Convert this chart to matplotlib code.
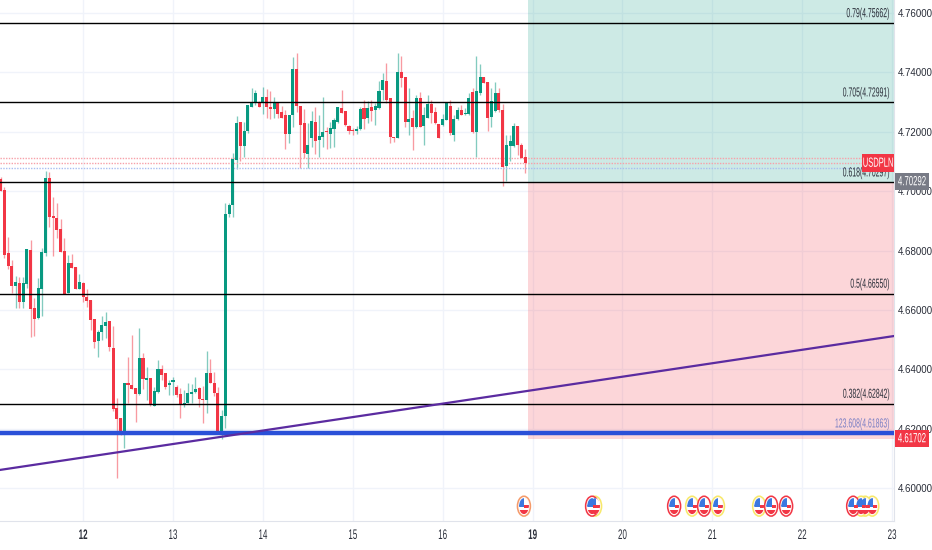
import matplotlib
matplotlib.use("Agg")
import matplotlib.pyplot as plt
from matplotlib.patches import Ellipse, Rectangle
from matplotlib.patheffects import AbstractPathEffect
from matplotlib.transforms import Affine2D
import numpy as np

plt.rcParams['font.family'] = ['Liberation Sans', 'DejaVu Sans']

opens = [4.7041,4.7004,4.6791,4.6749,4.6682,4.6690,4.6625,4.6686,4.6802,4.6606,
4.6572,4.6672,4.6790,4.7045,4.6917,4.6910,4.6873,4.6799,4.6657,4.6757,
4.6744,4.6672,4.6692,4.6643,4.6634,4.6571,4.6495,4.6526,4.6546,4.6561,
4.6473,4.6269,4.6235,4.6190,4.6353,4.6348,4.6338,4.6316,4.6439,4.6363,
4.6370,4.6278,4.6323,4.6401,4.6387,4.6346,4.6358,4.6342,4.6317,4.6280,
4.6286,4.6317,4.6323,4.6336,4.6301,4.6297,4.6387,4.6355,4.6319,4.6190,
4.6241,4.6923,4.6953,4.7105,4.7232,4.7152,4.7202,4.7284,4.7296,4.7298,
4.7296,4.7318,4.7284,4.7277,4.7299,4.7265,4.7256,4.7191,4.7256,4.7411,
4.7288,4.7228,4.7125,4.7180,4.7233,4.7172,4.7183,4.7202,4.7193,4.7208,
4.7234,4.7279,4.7270,4.7220,4.7206,4.7202,4.7208,4.7279,4.7245,4.7282,
4.7273,4.7281,4.7341,4.7371,4.7315,4.7183,4.7180,4.7400,4.7383,4.7232,
4.7245,4.7215,4.7315,4.7219,4.7248,4.7293,4.7265,4.7225,4.7223,4.7239,
4.7287,4.7190,4.7242,4.7273,4.7259,4.7260,4.7335,4.7198,4.7329,4.7383,
4.7366,4.7251,4.7270,4.7329,4.7273,4.7085,4.7152,4.7152,4.7219,4.7155,4.7114]

closes = [4.7002,4.6785,4.6749,4.6682,4.6694,4.6625,4.6690,4.6805,4.6603,4.6570,
4.6674,4.6795,4.7045,4.6914,4.6908,4.6869,4.6796,4.6654,4.6757,4.6741,
4.6672,4.6695,4.6645,4.6630,4.6567,4.6492,4.6526,4.6549,4.6560,4.6474,
4.6265,4.6232,4.6192,4.6353,4.6346,4.6335,4.6317,4.6439,4.6366,4.6370,
4.6280,4.6327,4.6401,4.6381,4.6342,4.6355,4.6364,4.6314,4.6280,4.6286,
4.6319,4.6325,4.6334,4.6300,4.6298,4.6387,4.6355,4.6319,4.6190,4.6241,
4.6923,4.6953,4.7107,4.7228,4.7152,4.7204,4.7290,4.7296,4.7329,4.7284,
4.7318,4.7284,4.7275,4.7296,4.7261,4.7248,4.7191,4.7256,4.7411,4.7288,
4.7223,4.7127,4.7155,4.7236,4.7170,4.7186,4.7199,4.7198,4.7211,4.7239,
4.7284,4.7264,4.7223,4.7202,4.7201,4.7208,4.7277,4.7243,4.7279,4.7271,
4.7287,4.7338,4.7374,4.7307,4.7181,4.7178,4.7400,4.7382,4.7234,4.7242,
4.7215,4.7315,4.7217,4.7256,4.7293,4.7263,4.7228,4.7180,4.7242,4.7299,
4.7195,4.7243,4.7273,4.7257,4.7264,4.7315,4.7200,4.7338,4.7383,4.7365,
4.7248,4.7303,4.7329,4.7273,4.7082,4.7155,4.7170,4.7219,4.7155,4.7113,4.7096]

highs = [4.7049,4.7013,4.6845,4.6768,4.6714,4.6710,4.6712,4.6805,4.6836,4.6639,
4.6709,4.6810,4.7069,4.7066,4.6980,4.6959,4.6907,4.6841,4.6784,4.6789,
4.6746,4.6721,4.6695,4.6670,4.6634,4.6571,4.6533,4.6581,4.6594,4.6561,
4.6546,4.6302,4.6235,4.6353,4.6443,4.6516,4.6338,4.6538,4.6454,4.6407,
4.6372,4.6339,4.6432,4.6415,4.6387,4.6364,4.6375,4.6347,4.6336,4.6330,
4.6353,4.6350,4.6373,4.6339,4.6344,4.6463,4.6434,4.6392,4.6339,4.6263,
4.6959,4.6961,4.7127,4.7253,4.7232,4.7234,4.7290,4.7346,4.7341,4.7303,
4.7350,4.7343,4.7338,4.7318,4.7299,4.7288,4.7273,4.7256,4.7451,4.7464,
4.7288,4.7275,4.7228,4.7270,4.7284,4.7256,4.7318,4.7217,4.7234,4.7247,
4.7284,4.7341,4.7270,4.7223,4.7211,4.7219,4.7284,4.7307,4.7303,4.7307,
4.7296,4.7371,4.7397,4.7433,4.7315,4.7183,4.7466,4.7456,4.7383,4.7346,
4.7273,4.7324,4.7335,4.7284,4.7324,4.7307,4.7284,4.7225,4.7260,4.7299,
4.7307,4.7256,4.7284,4.7290,4.7279,4.7329,4.7346,4.7456,4.7428,4.7383,
4.7366,4.7346,4.7369,4.7346,4.7293,4.7189,4.7189,4.7228,4.7219,4.7161,4.7142]

lows = [4.7002,4.6774,4.6738,4.6656,4.6606,4.6606,4.6606,4.6675,4.6510,4.6512,
4.6570,4.6581,4.6780,4.6878,4.6782,4.6841,4.6796,4.6654,4.6656,4.6741,
4.6672,4.6670,4.6625,4.6611,4.6533,4.6471,4.6443,4.6499,4.6504,4.6462,
4.6261,4.6035,4.6179,4.6136,4.6286,4.6333,4.6222,4.6314,4.6335,4.6295,
4.6278,4.6278,4.6319,4.6364,4.6333,4.6314,4.6314,4.6308,4.6237,4.6272,
4.6286,4.6286,4.6319,4.6272,4.6220,4.6252,4.6355,4.6310,4.6188,4.6164,
4.6201,4.6914,4.6914,4.7073,4.7102,4.7116,4.7195,4.7284,4.7290,4.7284,
4.7260,4.7245,4.7242,4.7248,4.7245,4.7245,4.7142,4.7163,4.7215,4.7268,
4.7077,4.7110,4.7077,4.7150,4.7125,4.7116,4.7147,4.7142,4.7144,4.7150,
4.7230,4.7264,4.7219,4.7192,4.7189,4.7192,4.7206,4.7208,4.7228,4.7237,
4.7223,4.7275,4.7307,4.7296,4.7163,4.7166,4.7180,4.7352,4.7217,4.7189,
4.7138,4.7214,4.7215,4.7155,4.7245,4.7228,4.7226,4.7178,4.7219,4.7239,
4.7189,4.7170,4.7239,4.7256,4.7255,4.7256,4.7195,4.7114,4.7324,4.7363,
4.7204,4.7215,4.7268,4.7268,4.7018,4.7035,4.7102,4.7150,4.7122,4.7110,4.7062]

day_ticks = [22, 46, 70, 94, 118, 142, 166, 190, 214, 238]
day_labels = ['12', '13', '14', '15', '16', '19', '20', '21', '22', '23']
price_ticks = [4.60, 4.62, 4.64, 4.66, 4.68, 4.70, 4.72, 4.74, 4.76]

fib_levels = [4.75662, 4.72991, 4.70297, 4.66550, 4.62842]
fib_names = ['0.79(4.75662)', '0.705(4.72991)', '0.618(4.70297)', '0.5(4.66550)', '0.382(4.62842)']
ext_level = 4.61863
ext_name = '123.608(4.61863)'
dotted_red = [4.7110, 4.7095]
dotted_blue = [4.7079]
trend_x = [-0.18, 238.5]
trend_y = [4.6061, 4.6512]
box_start = 140.8
box_entry = 4.70297
box_low = 4.6165
last_price = 4.70292
support_price = 4.61702

event_hours = [139.7, 158.7, 157.9, 179.8, 184.6, 187.8, 191.5, 202.5, 205.7, 209.7, 232.7, 230.8, 229.7, 227.6]
event_kind = ['o', 'y', 'r', 'r', 'y', 'r', 'y', 'y', 'r', 'r', 'y', 'y', 'y', 'r']

RED = '#f23645'
GREEN = '#089981'
INK = '#2a2e39'
W, H = 932, 550
PX_W, PX_H = 894, 521


class Squeeze(AbstractPathEffect):
    """Draw a text's glyphs condensed around one edge, like the chart's narrow face."""
    def __init__(self, sx, sy=1.0, anchor='center'):
        super().__init__()
        self.sx, self.sy, self.anchor = sx, sy, anchor

    def draw_path(self, renderer, gc, tpath, affine, rgbFace=None):
        b = tpath.get_extents(affine)
        ax_ = {'left': b.x0, 'right': b.x1, 'center': (b.x0 + b.x1) / 2}[self.anchor]
        ay_ = (b.y0 + b.y1) / 2
        extra = Affine2D().translate(-ax_, -ay_).scale(self.sx, self.sy).translate(ax_, ay_)
        renderer.draw_path(gc, tpath, affine + extra, rgbFace)


fig = plt.figure(figsize=(W / 100, H / 100), dpi=100, facecolor='white')
ax = fig.add_axes([0, (H - PX_H) / H, PX_W / W, PX_H / H])
ax.set_xlim(-0.18, 238.5)
ax.set_ylim(4.5889, 4.76438)

ax.set_xticks(day_ticks)
ax.set_xticklabels(day_labels, fontsize=8, color=INK)
for lbl in ax.get_xticklabels():
    if lbl.get_text() in ('12', '19'):
        lbl.set_fontweight('bold')
    lbl.set_path_effects([Squeeze(0.72, 1.25)])
ax.set_yticks(price_ticks)
ax.set_yticklabels([f'{p:.5f}' for p in price_ticks], fontsize=7, color=INK, ha='center')
for lbl in ax.get_yticklabels():
    lbl.set_path_effects([Squeeze(0.78, 1.33)])
ax.yaxis.tick_right()
ax.tick_params(axis='both', length=0)
ax.tick_params(axis='x', pad=6.5)
ax.tick_params(axis='y', pad=15.5)
for lbl in ax.get_yticklabels():
    lbl.set_ha('center')
ax.grid(True, color='#f0f3fa', lw=1)
ax.set_axisbelow(True)
for s in ('top', 'left'):
    ax.spines[s].set_visible(False)
for s in ('right', 'bottom'):
    ax.spines[s].set_color('#e0e3eb')

xlim_right = ax.get_xlim()[1]
ax.add_patch(Rectangle((box_start, box_entry), xlim_right - box_start, ax.get_ylim()[1] - box_entry,
                       fc='#089981', alpha=0.2, lw=0, zorder=1))
ax.add_patch(Rectangle((box_start, box_low), xlim_right - box_start, box_entry - box_low,
                       fc='#f23645', alpha=0.2, lw=0, zorder=1))

x = np.arange(len(opens))
o, h, l, c = map(np.array, (opens, highs, lows, closes))
cols = [GREEN if cc >= oo else RED for oo, cc in zip(o, c)]
ax.vlines(x, l, h, colors=cols, lw=0.95, alpha=0.5, zorder=2)
ax.bar(x, np.abs(c - o), bottom=np.minimum(o, c), width=0.82, color=cols, lw=0, zorder=3)

for v in dotted_red:
    ax.axhline(v, color='#f7a1a9', lw=1, ls=(0, (1, 1)), zorder=2.5)
for v in dotted_blue:
    ax.axhline(v, color='#a9bdf0', lw=1, ls=(0, (1, 1)), zorder=2.5)

for v in fib_levels:
    ax.axhline(v, color='black', lw=1, zorder=4)
ax.axhline(ext_level, color='#2a50d8', lw=3.2, zorder=5)
ax.plot(trend_x, trend_y, color='#5b2ba0', lw=1.6, zorder=6)

label_x = 237.3
for v, name in zip(fib_levels, fib_names):
    t = ax.text(label_x, v + 0.0016, name, ha='right', va='bottom', fontsize=7, color=INK, zorder=7)
    t.set_path_effects([Squeeze(0.71, 1.35, 'right')])
t = ax.text(label_x, ext_level + 0.0014, ext_name, ha='right', va='bottom', fontsize=7, color='#7b7fc4', zorder=7)
t.set_path_effects([Squeeze(0.71, 1.35, 'right')])

# economic-event flags
icon_w, icon_h = 3.47, 0.0067
icon_y = 4.5939
edge = {'r': '#f23645', 'y': '#f7e96a', 'o': '#f59a6a'}
for hx, kind in zip(event_hours, event_kind):
    ax.add_patch(Ellipse((hx, icon_y), icon_w, icon_h, fc='#fff6f2', ec=edge[kind], lw=1.1, zorder=8))
    iw, ih = icon_w * 0.74, icon_h * 0.8
    inner = Ellipse((hx, icon_y), iw, ih, fc='white', lw=0, zorder=8.05)
    ax.add_patch(inner)
    parts = [
        Rectangle((hx - iw / 2, icon_y - ih * 0.05), iw, ih * 0.1, fc='#3b78e0', lw=0, zorder=8.1),
        Rectangle((hx - iw / 2, icon_y + ih * 0.0), iw * 0.55, ih / 2, fc='#3b78e0', lw=0, zorder=8.1),
        Rectangle((hx + iw * 0.05, icon_y - ih * 0.1), iw / 2, ih * 0.18, fc='#f23645', lw=0, zorder=8.1),
        Rectangle((hx - iw / 2, icon_y - ih / 2), iw, ih * 0.28, fc='#f23645', lw=0, zorder=8.1),
    ]
    for p in parts:
        ax.add_patch(p)
        p.set_clip_path(inner)


def fig_box(px0, py0, px1, py1, color):
    fig.add_artist(Rectangle((px0 / W, 1 - py1 / H), (px1 - px0) / W, (py1 - py0) / H,
                             transform=fig.transFigure, fc=color, lw=0, zorder=20))


def fig_label(px, py, s, scale):
    t = fig.text(px / W, 1 - py / H, s, ha='center', va='center', fontsize=8, color='white', zorder=21)
    t.set_path_effects([Squeeze(*scale)])


fig_box(862, 154, 894, 172, RED)
fig_label(878, 163, 'USDPLN', (0.68, 1.2))
fig_box(895, 173, 929, 190, '#787b86')
fig_label(912, 181.5, f'{last_price:.5f}', (0.7, 1.2))
fig_box(895, 430, 929, 447, RED)
fig_label(912, 438.5, f'{support_price:.5f}', (0.7, 1.2))

fig.savefig('out.png', dpi=100, facecolor='white')
